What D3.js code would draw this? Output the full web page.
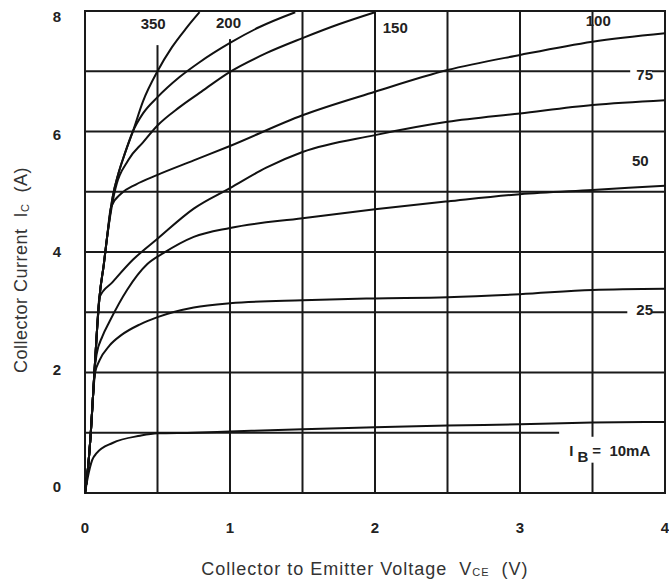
<!DOCTYPE html>
<html>
<head>
<meta charset="utf-8">
<script src="https://cdn.jsdelivr.net/npm/d3@7"></script>
<style>
  body { margin: 0; background: #fff; }
  text { font-family: "Liberation Sans", Arial, sans-serif; white-space: pre; }
  .narrow { font-family: "Liberation Sans Narrow", "Liberation Sans", Arial, sans-serif; font-weight: bold; }
</style>
</head>
<body>
<div id="chart"></div>
<script>
// base current curves, [Vce (V), Ic (A)]
var ib10 = [[0,0],[0.02,0.27],[0.05,0.55],[0.08,0.66],[0.19,0.83],[0.38,0.95],[0.5,0.99],[0.75,1.0],[1,1.02],[1.5,1.06],[2,1.09],[2.5,1.12],[3,1.14],[3.5,1.17],[4,1.18]];
var ib25 = [[0,0],[0.02,0.4],[0.04,1.0],[0.055,1.6],[0.07,2.0],[0.1,2.2],[0.17,2.45],[0.25,2.62],[0.38,2.8],[0.5,2.92],[0.75,3.08],[1,3.15],[1.5,3.2],[2,3.23],[2.5,3.25],[3,3.3],[3.5,3.37],[4,3.39]];
var ib50 = [[0,0],[0.02,0.4],[0.04,1.0],[0.055,1.6],[0.065,2.0],[0.08,2.3],[0.12,2.6],[0.17,2.85],[0.29,3.37],[0.43,3.8],[0.54,3.98],[0.75,4.25],[1,4.4],[1.5,4.56],[2,4.71],[2.5,4.84],[3,4.96],[3.5,5.03],[4,5.1]];
var ib75 = [[0,0],[0.02,0.4],[0.04,1.0],[0.055,1.6],[0.065,2.0],[0.08,2.6],[0.1,3.25],[0.19,3.5],[0.33,3.87],[0.5,4.22],[0.75,4.72],[1,5.06],[1.25,5.4],[1.5,5.66],[2,5.94],[2.5,6.16],[3,6.3],[3.5,6.44],[4,6.52]];
var ib100 = [[0,0],[0.02,0.4],[0.04,1.0],[0.055,1.6],[0.065,2.0],[0.08,2.6],[0.1,3.25],[0.13,3.8],[0.15,4.2],[0.18,4.75],[0.25,4.97],[0.35,5.12],[0.5,5.28],[0.75,5.52],[1,5.76],[1.5,6.27],[2,6.66],[2.5,7.02],[3,7.27],[3.5,7.49],[4,7.63]];
var ib150 = [[0,0],[0.02,0.4],[0.04,1.0],[0.055,1.6],[0.065,2.0],[0.08,2.6],[0.1,3.25],[0.13,3.8],[0.15,4.2],[0.2,4.95],[0.3,5.53],[0.4,5.82],[0.5,6.1],[0.65,6.4],[0.79,6.64],[1,6.99],[1.25,7.3],[1.5,7.55],[1.75,7.78],[2,7.98]];
var ib200 = [[0,0],[0.02,0.4],[0.04,1.0],[0.055,1.6],[0.065,2.0],[0.08,2.6],[0.1,3.25],[0.13,3.8],[0.15,4.2],[0.19,4.9],[0.23,5.3],[0.27,5.6],[0.33,6.0],[0.4,6.3],[0.5,6.57],[0.65,6.9],[0.79,7.15],[1,7.47],[1.2,7.73],[1.45,7.98]];
var ib350 = [[0,0],[0.02,0.4],[0.04,1.0],[0.055,1.6],[0.065,2.0],[0.08,2.6],[0.1,3.25],[0.13,3.8],[0.15,4.2],[0.19,4.9],[0.23,5.3],[0.27,5.6],[0.33,6.0],[0.4,6.5],[0.5,7.0],[0.6,7.4],[0.7,7.72],[0.79,7.98]];

var curves = [ib10, ib25, ib50, ib75, ib100, ib150, ib200, ib350];

// curve labels: text and where it sits (data units)
var curveLabels = [
  ["350", 0.47, 7.7], ["200", 0.99, 7.72], ["150", 2.14, 7.63],
  ["100", 3.54, 7.75], ["75", 3.86, 6.85], ["50", 3.83, 5.43], ["25", 3.86, 2.96]
];

var xTicks = [0, 1, 2, 3, 4];
var yTicks = [0, 2, 4, 6, 8];
var xGrid = [0.5, 1, 1.5, 2, 2.5, 3, 3.5];
var yGrid = [1, 2, 3, 4, 5, 6, 7];

var svgWidth = 669;
var svgHeight = 585;
var margin = { top: 11, right: 4, bottom: 92, left: 85 };
var chartWidth = svgWidth - margin.left - margin.right;
var chartHeight = svgHeight - margin.top - margin.bottom;

var svg = d3.select("#chart")
  .append("svg")
  .attr("width", svgWidth)
  .attr("height", svgHeight);

var chartGroup = svg.append("g")
  .attr("transform", `translate(${margin.left}, ${margin.top})`);

var x = d3.scaleLinear().domain([0, 4]).range([0, chartWidth]);
var y = d3.scaleLinear().domain([0, 8]).range([chartHeight, 0]);
// the y tick labels sit a little inside the grid ends
var yLab = d3.scaleLinear().domain([0, 8]).range([chartHeight - 6, 6]);

var ink = "#1a1a1a";

// grid
chartGroup.selectAll(".vgrid")
  .data(xGrid)
  .enter()
  .append("line")
  .attr("x1", d => x(d)).attr("x2", d => x(d))
  .attr("y1", 0).attr("y2", chartHeight)
  .attr("stroke", ink).attr("stroke-width", 2);

chartGroup.selectAll(".hgrid")
  .data(yGrid)
  .enter()
  .append("line")
  .attr("x1", 0).attr("x2", d => d == 1 ? x(3.27) : chartWidth)
  .attr("y1", d => y(d)).attr("y2", d => y(d))
  .attr("stroke", ink).attr("stroke-width", 2);

// gaps in the grid around the labels
var gaps = [[0.48, 8, 0.52, 7.45], [0.98, 8, 1.02, 7.55], [3.48, 0.95, 3.52, 0.52],
  [3.76, 7.05, 3.91, 6.95], [3.74, 3.05, 3.91, 2.95]];
chartGroup.selectAll(".gap")
  .data(gaps)
  .enter()
  .append("rect")
  .attr("x", d => x(d[0]))
  .attr("y", d => y(d[1]) + 1)
  .attr("width", d => x(d[2]) - x(d[0]))
  .attr("height", d => y(d[3]) - y(d[1]))
  .attr("fill", "#fff");

chartGroup.append("rect")
  .attr("width", chartWidth).attr("height", chartHeight)
  .attr("fill", "none").attr("stroke", ink).attr("stroke-width", 2);

// curves
var line = d3.line()
  .x(d => x(d[0]))
  .y(d => y(d[1]))
  .curve(d3.curveMonotoneX);

chartGroup.selectAll(".curve")
  .data(curves)
  .enter()
  .append("path")
  .attr("d", line)
  .attr("fill", "none")
  .attr("stroke", "#111")
  .attr("stroke-width", 2);

chartGroup.selectAll(".clabel")
  .data(curveLabels)
  .enter()
  .append("text")
  .classed("narrow", true)
  .attr("x", d => x(d[1]))
  .attr("y", d => y(d[2]))
  .attr("text-anchor", "middle")
  .attr("font-size", "15px")
  .attr("fill", "#222")
  .text(d => d[0]);

var ibLabel = chartGroup.append("text")
  .classed("narrow", true)
  .attr("x", x(3.34))
  .attr("y", y(0.62))
  .attr("font-size", "15px")
  .attr("fill", "#222");
ibLabel.append("tspan").text("I");
ibLabel.append("tspan").attr("dy", 6).attr("dx", 4).text("B");
ibLabel.append("tspan").attr("dy", -6).attr("dx", 4).text("=  10mA");

// tick labels
chartGroup.selectAll(".xtick")
  .data(xTicks)
  .enter()
  .append("text")
  .classed("narrow", true)
  .attr("x", d => x(d))
  .attr("y", chartHeight + 40)
  .attr("text-anchor", "middle")
  .attr("font-size", "15px")
  .attr("fill", "#222")
  .text(d => d);

chartGroup.selectAll(".ytick")
  .data(yTicks)
  .enter()
  .append("text")
  .classed("narrow", true)
  .attr("x", -28)
  .attr("y", d => yLab(d) + 5)
  .attr("text-anchor", "middle")
  .attr("font-size", "15px")
  .attr("fill", "#222")
  .text(d => d);

// axis titles
var yTitle = chartGroup.append("text")
  .attr("transform", "rotate(-90)")
  .attr("x", 0 - y(3.7))
  .attr("y", -58)
  .attr("text-anchor", "middle")
  .attr("font-size", "18px")
  .attr("letter-spacing", "0.5px")
  .attr("fill", "#333");
yTitle.append("tspan").text("Collector Current  I");
yTitle.append("tspan").attr("font-size", "11px").attr("dy", 2).text("C");
yTitle.append("tspan").attr("dy", -2).text("  (A)");

var xTitle = chartGroup.append("text")
  .attr("x", x(1.93))
  .attr("y", chartHeight + 82)
  .attr("text-anchor", "middle")
  .attr("font-size", "18px")
  .attr("letter-spacing", "1px")
  .attr("fill", "#333");
xTitle.append("tspan").text("Collector to Emitter Voltage  V");
xTitle.append("tspan").attr("font-size", "11px").attr("dy", 1).text("CE");
xTitle.append("tspan").attr("dy", -1).text("  (V)");
</script>
</body>
</html>
